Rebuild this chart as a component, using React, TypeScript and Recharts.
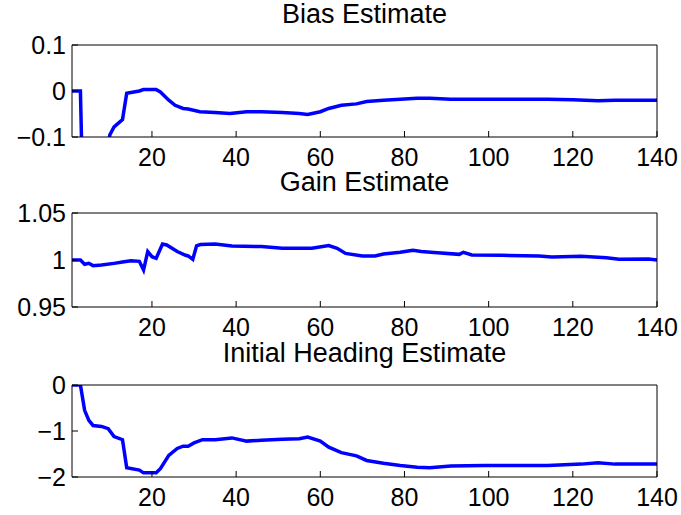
import React from 'react';
import { LineChart, Line, XAxis, YAxis } from 'recharts';

const xTicks = [20, 40, 60, 80, 100, 120, 140];

const biasX = [1, 3, 4, 6, 8, 9, 10, 11, 13, 14, 17, 18, 21, 22, 24, 25.5, 27.4, 28.6, 31.4, 35, 38.5, 42.5, 46, 51, 55, 57, 60, 62, 65, 68.6, 71, 75, 79, 83, 86, 91, 99, 105, 114, 120, 126, 130, 135, 140];
const biasY = [0, 0, -0.4, -0.4, -0.35, -0.15, -0.095, -0.078, -0.062, -0.005, 0, 0.003, 0.003, -0.002, -0.02, -0.031, -0.038, -0.039, -0.045, -0.047, -0.049, -0.045, -0.045, -0.047, -0.049, -0.051, -0.045, -0.038, -0.031, -0.028, -0.023, -0.02, -0.018, -0.016, -0.016, -0.018, -0.018, -0.018, -0.018, -0.019, -0.021, -0.02, -0.02, -0.02];

const gainX = [1, 3, 4, 5, 6, 8, 11, 13, 15, 17, 18, 19, 20, 21, 22.5, 23.5, 26, 28, 28.6, 29.7, 30.6, 31.5, 35, 39, 46, 51, 58, 62, 64, 66, 70, 73, 75, 79, 82, 84, 87, 93, 94, 96, 103, 112, 115, 122, 128, 131, 138, 140];
const gainY = [1.0, 1.0, 0.9955, 0.9965, 0.994, 0.9946, 0.9964, 0.9978, 0.9993, 0.9986, 0.9893, 1.009, 1.0035, 1.0018, 1.017, 1.016, 1.009, 1.005, 1.0043, 1.0007, 1.015, 1.0164, 1.017, 1.015, 1.0143, 1.0125, 1.0125, 1.0153, 1.0125, 1.007, 1.0043, 1.0043, 1.0064, 1.0082, 1.0104, 1.009, 1.008, 1.006, 1.0082, 1.0053, 1.005, 1.0043, 1.0032, 1.004, 1.0025, 1.0007, 1.001, 1.0];

const headingX = [1, 3, 4, 5, 6, 8, 9.6, 11, 13, 14, 17, 18, 21, 22, 24, 26, 27.4, 28.6, 30, 32, 35, 39, 42.5, 46, 51, 55, 57, 60, 62, 65, 68.6, 71, 75, 79, 83, 86, 91, 99, 114, 122, 126, 130, 140];
const headingY = [0, 0, -0.55, -0.77, -0.88, -0.9, -0.95, -1.12, -1.19, -1.8, -1.85, -1.91, -1.91, -1.82, -1.53, -1.38, -1.33, -1.33, -1.26, -1.19, -1.19, -1.15, -1.22, -1.2, -1.18, -1.17, -1.13, -1.22, -1.35, -1.47, -1.54, -1.64, -1.7, -1.75, -1.79, -1.8, -1.76, -1.75, -1.75, -1.72, -1.69, -1.72, -1.72];

const FONT = '"Liberation Sans", Arial, Helvetica, sans-serif';
const fmt = (v: number) => String(v).replace('-', '\u2212');

function Panel({ xs, ys, domain, ticks, top, height, mt, mb }: any) {
  const data = xs.map((x: number, i: number) => ({ x, v: ys[i] }));
  const tickStyle = { fill: '#000', fontSize: 25, fontFamily: FONT };
  return (
    <div style={{ position: 'absolute', left: 0, top }}>
      <LineChart width={681} height={height} data={data} margin={{ top: mt, right: 23, bottom: mb, left: 0 }}>
        <XAxis type="number" dataKey="x" domain={[1, 140]} ticks={xTicks} allowDataOverflow
          stroke="#000" tickSize={-6} tickMargin={17} height={30} tick={tickStyle} />
        <XAxis xAxisId="top" orientation="top" type="number" dataKey="x" domain={[1, 140]} ticks={xTicks}
          allowDataOverflow stroke="#000" tickSize={-6} height={1} tick={false} />
        <YAxis type="number" domain={domain} ticks={ticks} allowDataOverflow stroke="#000"
          tickSize={-6} tickMargin={12} width={72} tick={tickStyle} tickFormatter={fmt} />
        <YAxis yAxisId="r" orientation="right" type="number" domain={domain} ticks={ticks}
          allowDataOverflow stroke="#000" tickSize={-6} width={1} tick={false} />
        <Line type="linear" dataKey="v" stroke="#0000ff" strokeWidth={3.5} dot={false} isAnimationActive={false} />
        <Line xAxisId="top" yAxisId="r" type="linear" dataKey="v" stroke="none" dot={false}
          activeDot={false} legendType="none" isAnimationActive={false} />
      </LineChart>
    </div>
  );
}

const titleStyle: React.CSSProperties = {
  position: 'absolute', left: 72, width: 585, textAlign: 'center',
  fontFamily: FONT, fontSize: 27, lineHeight: '27px', color: '#000', whiteSpace: 'nowrap',
};

export default function App() {
  return (
    <div style={{ position: 'absolute', left: 0, top: 0, width: 681, height: 515, background: '#fff' }}>
      <Panel xs={biasX} ys={biasY} domain={[-0.1, 0.1]} ticks={[-0.1, 0, 0.1]} top={0} height={172} mt={44} mb={5} />
      <Panel xs={gainX} ys={gainY} domain={[0.95, 1.05]} ticks={[0.95, 1, 1.05]} top={172} height={172} mt={40} mb={7} />
      <Panel xs={headingX} ys={headingY} domain={[-2, 0]} ticks={[-2, -1, 0]} top={344} height={171} mt={40} mb={8} />
      <div style={{ ...titleStyle, top: 1 }}>Bias Estimate</div>
      <div style={{ ...titleStyle, top: 169 }}>Gain Estimate</div>
      <div style={{ ...titleStyle, top: 340 }}>Initial Heading Estimate</div>
    </div>
  );
}
